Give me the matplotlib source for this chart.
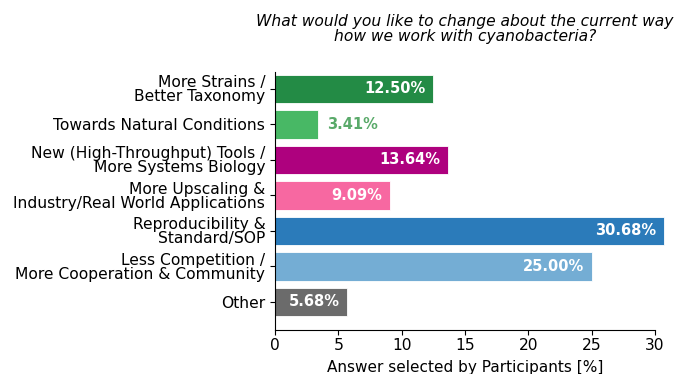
import numpy as np
import matplotlib.pyplot as plt

plt.rcParams['font.family'] = ['DejaVu Sans']

categories = ["More Strains /\nBetter Taxonomy",
              "Towards Natural Conditions",
              "New (High-Throughput) Tools /\nMore Systems Biology",
              "More Upscaling &\nIndustry/Real World Applications",
              "Reproducibility &\nStandard/SOP",
              "Less Competition /\nMore Cooperation & Community",
              "Other"]
values = [12.50, 3.41, 13.64, 9.09, 30.68, 25.00, 5.68]
colors = ["#238b45", "#48b865", "#ae017e", "#f768a1", "#2b7bba", "#74add4", "#6b6b6b"]

fig = plt.figure(figsize=(6.78, 3.74), dpi=100)
ax = fig.add_axes([0.4056, 0.1176, 0.5605, 0.69])

y = np.arange(len(categories))
bars = ax.barh(y, values, height=0.8, color=colors, edgecolor="white", linewidth=0.6)
for b in bars:
    b.set_clip_on(False)

for yi, v, c in zip(y, values, colors):
    txt = "%.2f%%" % v
    if v > 5:
        ax.text(v - 0.6, yi, txt, ha="right", va="center", color="white",
                fontsize=10.5, fontweight="bold")
    else:
        ax.text(v + 0.7, yi, txt, ha="left", va="center", color="#5aaa6a",
                fontsize=10.5, fontweight="bold")

ax.set_yticks(y)
ax.set_yticklabels(categories, fontsize=11.2, linespacing=0.9)
ax.set_ylim(len(categories) - 1 + 0.79, -0.48)
ax.set_xlim(0, 30)
ax.set_xticks(range(0, 31, 5))
ax.tick_params(axis="x", labelsize=11.2, pad=2)
ax.set_xlabel("Answer selected by Participants [%]", fontsize=11, labelpad=5)
ax.spines["top"].set_visible(False)
ax.spines["right"].set_visible(False)

ax.set_title("What would you like to change about the current way\nhow we work with cyanobacteria?",
             fontsize=11.2, style="italic", linespacing=1.0, pad=22)

fig.savefig("out.png", dpi=100)
